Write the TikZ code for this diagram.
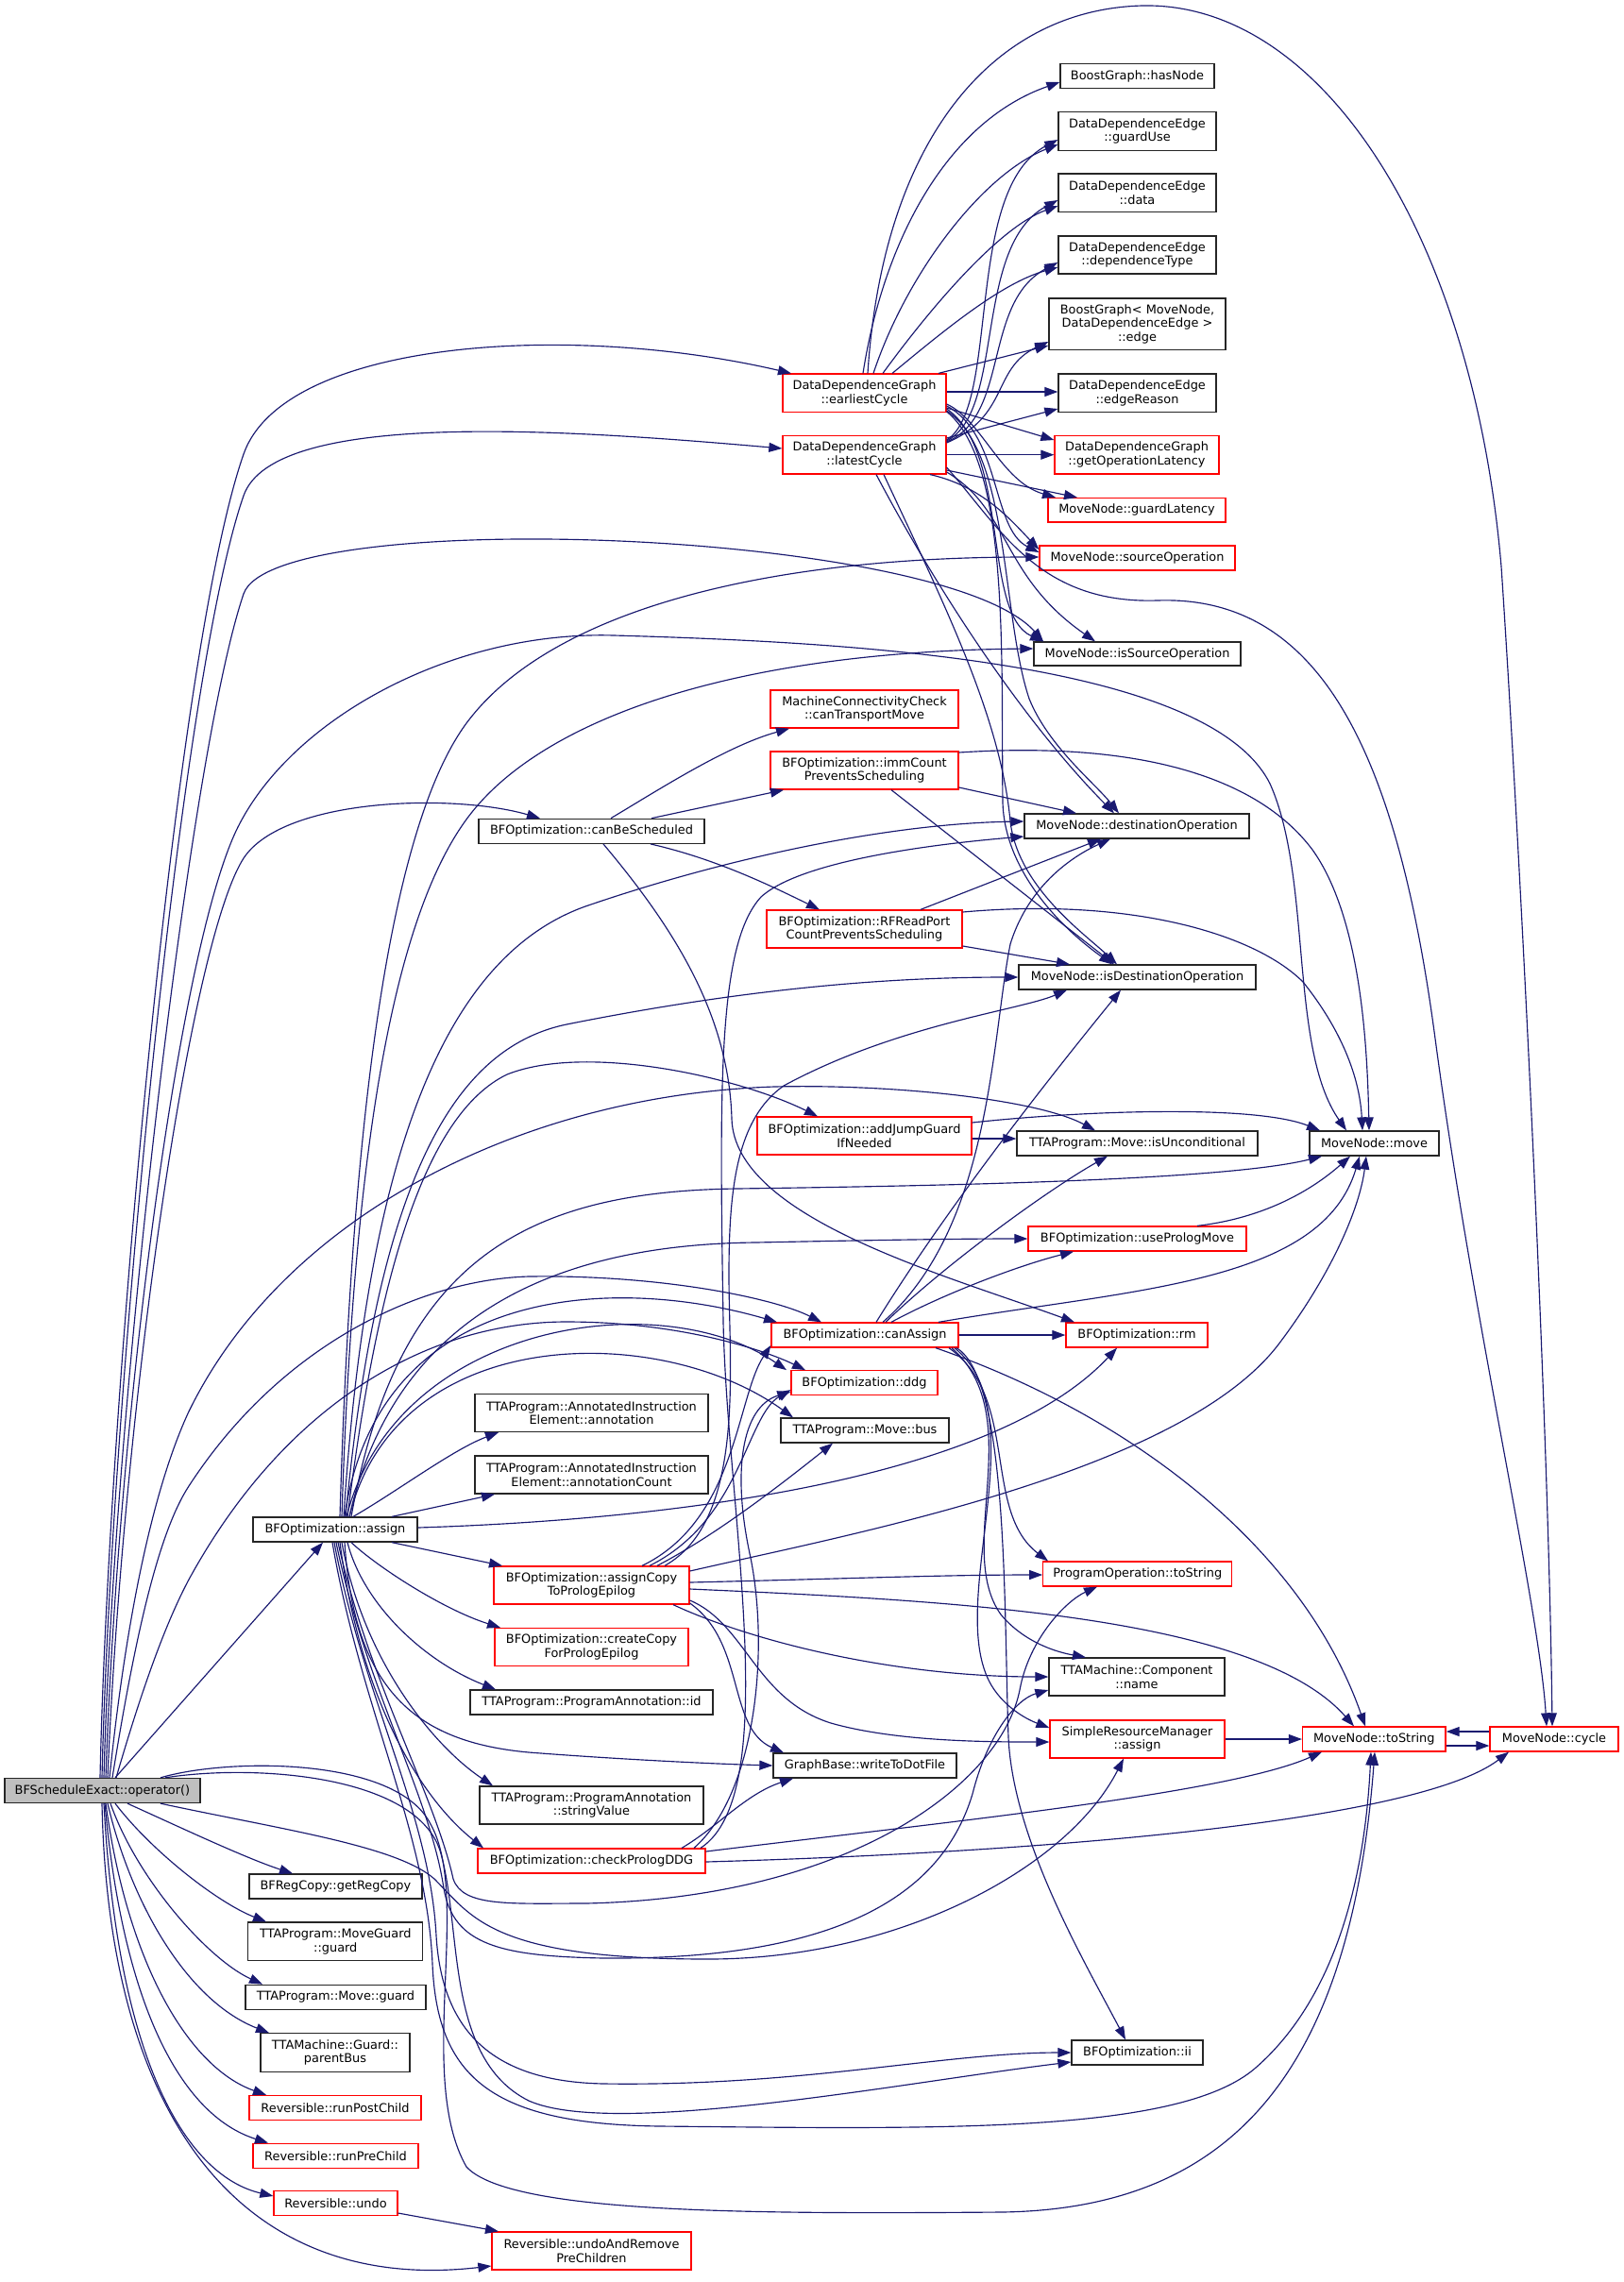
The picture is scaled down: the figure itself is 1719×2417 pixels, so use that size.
\documentclass[tikz,border=0pt]{standalone}
\usepackage{fontspec}
\setmainfont{DejaVu Sans}
\usetikzlibrary{arrows.meta}
\definecolor{edgeblue}{RGB}{25,25,112}
\definecolor{nodered}{RGB}{255,0,0}
\begin{document}
\begin{tikzpicture}[x=1pt,y=-1pt,
  lab/.style={font=\fontsize{12.9}{14.6}\selectfont},
  box/.style={draw=black!85, fill=white, line width=1.3pt, inner sep=0pt, align=center, lab},
  rbox/.style={box, draw=nodered},
  rootbox/.style={box, fill=black!25},
  edge/.style={draw=edgeblue, line width=1.15pt, -{Triangle[length=14pt,width=10pt]}, fill=none},
]
\path[use as bounding box, fill=white] (0,0) rectangle (1719,2417);

% ---------------- nodes ----------------
\node[rootbox, minimum width=207, minimum height=26] (R) at (108.4,1896.5) {BFScheduleExact::operator()};
\node[box, minimum width=174, minimum height=26] (assign) at (355,1620) {BFOptimization::assign};
\node[box, minimum width=183, minimum height=26] (getRegCopy) at (355.4,1998) {BFRegCopy::getRegCopy};
\node[box, minimum width=185, minimum height=40.5] (mgGuard) at (355.3,2056.3) {TTAProgram::MoveGuard\\::guard};
\node[box, minimum width=191, minimum height=26] (mvGuard) at (355.5,2115.3) {TTAProgram::Move::guard};
\node[box, minimum width=158, minimum height=40.5] (parentBus) at (355,2174) {TTAMachine::Guard::\\parentBus};
\node[rbox, minimum width=182, minimum height=26] (runPost) at (355,2232.5) {Reversible::runPostChild};
\node[rbox, minimum width=175, minimum height=26] (runPre) at (355.5,2283.3) {Reversible::runPreChild};
\node[rbox, minimum width=131, minimum height=26] (undo) at (355.5,2333.5) {Reversible::undo};

\node[box, minimum width=239, minimum height=26] (canSched) at (626.5,880.3) {BFOptimization::canBeScheduled};
\node[box, minimum width=247, minimum height=40] (annot) at (626.5,1496.5) {TTAProgram::AnnotatedInstruction\\Element::annotation};
\node[box, minimum width=247, minimum height=40] (annotCount) at (626.5,1562) {TTAProgram::AnnotatedInstruction\\Element::annotationCount};
\node[rbox, minimum width=207, minimum height=40] (assignCopy) at (626.5,1679) {BFOptimization::assignCopy\\ToPrologEpilog};
\node[rbox, minimum width=205, minimum height=40] (createCopy) at (626.5,1744.5) {BFOptimization::createCopy\\ForPrologEpilog};
\node[box, minimum width=257, minimum height=26] (annId) at (626.5,1803) {TTAProgram::ProgramAnnotation::id};
\node[box, minimum width=237, minimum height=40] (strVal) at (626.5,1912) {TTAProgram::ProgramAnnotation\\::stringValue};
\node[rbox, minimum width=241, minimum height=26] (checkDDG) at (626.5,1971) {BFOptimization::checkPrologDDG};
\node[rbox, minimum width=211, minimum height=40] (undoRem) at (626.5,2384) {Reversible::undoAndRemove\\PreChildren};

\node[rbox, minimum width=173, minimum height=40.5] (earliest) at (915.5,416.3) {DataDependenceGraph\\::earliestCycle};
\node[rbox, minimum width=173, minimum height=40.5] (latest) at (915.5,481.7) {DataDependenceGraph\\::latestCycle};
\node[rbox, minimum width=199, minimum height=40] (canTrans) at (915.5,751) {MachineConnectivityCheck\\::canTransportMove};
\node[rbox, minimum width=199, minimum height=40] (immCount) at (915.5,816) {BFOptimization::immCount\\PreventsScheduling};
\node[rbox, minimum width=207, minimum height=40] (rfRead) at (915.5,984) {BFOptimization::RFReadPort\\CountPreventsScheduling};
\node[rbox, minimum width=227, minimum height=40] (jumpGuard) at (915.5,1203) {BFOptimization::addJumpGuard\\IfNeeded};
\node[rbox, minimum width=198, minimum height=26] (canAssign) at (916,1414) {BFOptimization::canAssign};
\node[rbox, minimum width=155, minimum height=25.5] (ddg) at (915.5,1464.5) {BFOptimization::ddg};
\node[box, minimum width=178, minimum height=26] (bus) at (916,1515) {TTAProgram::Move::bus};
\node[box, minimum width=194, minimum height=26] (dotFile) at (916,1870) {GraphBase::writeToDotFile};

\node[box, minimum width=163, minimum height=25.7] (hasNode) at (1204.5,80.5) {BoostGraph::hasNode};
\node[box, minimum width=167, minimum height=40.8] (guardUse) at (1204.5,139) {DataDependenceEdge\\::guardUse};
\node[box, minimum width=167, minimum height=40.6] (data) at (1204.5,204.3) {DataDependenceEdge\\::data};
\node[box, minimum width=167, minimum height=40] (depType) at (1204.5,270) {DataDependenceEdge\\::dependenceType};
\node[box, minimum width=187, minimum height=54.5] (bgEdge) at (1204.5,343.3) {BoostGraph< MoveNode,\\DataDependenceEdge >\\::edge};
\node[box, minimum width=167, minimum height=40.5] (edgeReason) at (1204.5,416.3) {DataDependenceEdge\\::edgeReason};
\node[rbox, minimum width=174, minimum height=40.3] (opLat) at (1204,481.7) {DataDependenceGraph\\::getOperationLatency};
\node[rbox, minimum width=188, minimum height=25.5] (guardLat) at (1204,540.3) {MoveNode::guardLatency};
\node[rbox, minimum width=207, minimum height=26] (srcOp) at (1204.5,591) {MoveNode::sourceOperation};
\node[box, minimum width=219, minimum height=25] (isSrcOp) at (1204.5,692.5) {MoveNode::isSourceOperation};
\node[box, minimum width=238, minimum height=26] (dstOp) at (1204,875) {MoveNode::destinationOperation};
\node[box, minimum width=251, minimum height=26] (isDstOp) at (1204.5,1035) {MoveNode::isDestinationOperation};
\node[box, minimum width=255, minimum height=26] (isUncond) at (1204.5,1211) {TTAProgram::Move::isUnconditional};
\node[rbox, minimum width=231, minimum height=26] (useProlog) at (1204.5,1312) {BFOptimization::usePrologMove};
\node[rbox, minimum width=150, minimum height=26] (rm) at (1204,1414) {BFOptimization::rm};
\node[rbox, minimum width=200, minimum height=26] (poStr) at (1204.8,1667) {ProgramOperation::toString};
\node[box, minimum width=186, minimum height=40] (compName) at (1204,1776) {TTAMachine::Component\\::name};
\node[rbox, minimum width=185, minimum height=40] (srmAssign) at (1204.5,1842) {SimpleResourceManager\\::assign};
\node[box, minimum width=139, minimum height=26] (ii) at (1204.5,2174) {BFOptimization::ii};

\node[box, minimum width=137, minimum height=26] (move) at (1455.5,1211) {MoveNode::move};
\node[rbox, minimum width=151.5, minimum height=26] (toStr) at (1455.3,1842) {MoveNode::toString};
\node[rbox, minimum width=136, minimum height=26] (cycle) at (1646,1842) {MoveNode::cycle};

% ---------------- edges from operator() ----------------
\draw[edge] (R.north -| 122,0) -- (assign.south -| 342,0);
\draw[edge] (R.south -| 135,0) .. controls (190,1935) and (260,1968) .. (getRegCopy.north -| 310,0);
\draw[edge] (R.south -| 122,0) .. controls (160,1960) and (230,2015) .. (mgGuard.north -| 282,0);
\draw[edge] (R.south -| 117,0) .. controls (145,1990) and (220,2075) .. (mvGuard.north -| 278,0);
\draw[edge] (R.south -| 114,0) .. controls (140,2020) and (200,2120) .. (parentBus.north -| 285,0);
\draw[edge] (R.south -| 112,0) .. controls (135,2080) and (200,2190) .. (runPost.north -| 282,0);
\draw[edge] (R.south -| 111,0) .. controls (130,2120) and (190,2240) .. (runPre.north -| 284,0);
\draw[edge] (R.south -| 110,0) .. controls (125,2190) and (200,2305) .. (undo.west |- 0,2326);
\draw[edge] (R.south -| 108,0) .. controls (115,2250) and (260,2430) .. (undoRem.west |- 0,2400);
\draw[edge] (undo.east |- 0,2344) -- (undoRem.north -| 528,0);
\draw[edge] (R.north -| 106,0) .. controls (114,1500) and (185,690) .. (258,481) .. controls (300,361) and (600,340) .. (earliest.north -| 838,0);
\draw[edge] (R.north -| 108,0) .. controls (117,1500) and (190,720) .. (258,525) .. controls (290,433) and (600,455) .. (latest.west |- 0,475);
\draw[edge] (R.north -| 110,0) .. controls (120,1500) and (200,800) .. (258,629) .. controls (290,535) and (1000,560) .. (isSrcOp.north -| 1105,0);
\draw[edge] (R.north -| 112,0) .. controls (125,1500) and (190,1000) .. (252,876) .. controls (310,760) and (480,668) .. (650,673) .. controls (900,680) and (1280,700) .. (1345,830) .. controls (1390,930) and (1365,1110) .. (move.north -| 1426,0);
\draw[edge] (R.north -| 114,0) .. controls (130,1500) and (200,1000) .. (258,909) .. controls (300,845) and (480,840) .. (canSched.north -| 572,0);
\draw[edge] (R.north -| 116,0) .. controls (135,1700) and (165,1570) .. (200,1495) .. controls (300,1290) and (550,1160) .. (820,1151) .. controls (950,1148) and (1100,1165) .. (isUncond.north -| 1160,0);
\draw[edge] (R.north -| 119,0) .. controls (145,1720) and (170,1620) .. (200,1574) .. controls (300,1420) and (450,1355) .. (560,1352) .. controls (700,1350) and (820,1375) .. (canAssign.north -| 870,0);
\draw[edge] (R.north -| 123,0) .. controls (150,1790) and (175,1720) .. (200,1673) .. controls (300,1490) and (450,1400) .. (600,1400) .. controls (720,1400) and (810,1430) .. (ddg.north -| 853,0);
\draw[edge] (R.south -| 170,0) .. controls (300,1938) and (420,1955) .. (460,1990) .. controls (500,2030) and (520,2075) .. (750,2075) .. controls (950,2075) and (1130,1980) .. (srmAssign.south -| 1190,0);
\draw[edge] (R.north -| 170,0) .. controls (240,1862) and (420,1860) .. (456,1932) .. controls (500,2010) and (440,2200) .. (494,2295) .. controls (540,2345) and (800,2345) .. (1060,2343) .. controls (1300,2340) and (1430,2200) .. (toStr.south -| 1456,0);
\draw[edge] (R.north -| 175,0) .. controls (270,1868) and (440,1880) .. (466,1960) .. controls (490,2040) and (470,2180) .. (560,2225) .. controls (650,2265) and (960,2205) .. (ii.west |- 0,2184);

% ---------------- edges from assign ----------------
\draw[edge] (assign.north -| 365,0) .. controls (400,1360) and (650,1350) .. (canAssign.north -| 823,0);
\draw[edge] (assign.north -| 367,0) .. controls (420,1400) and (700,1360) .. (ddg.north -| 833,0);
\draw[edge] (assign.north -| 370,0) .. controls (420,1400) and (700,1400) .. (bus.north -| 840,0);
\draw[edge] (assign.north -| 374,0) .. controls (420,1580) and (480,1535) .. (annot.south -| 528,0);
\draw[edge] (assign.north -| 415,0) -- (annotCount.south -| 524,0);
\draw[edge] (assign.south -| 415,0) -- (assignCopy.north -| 532,0);
\draw[edge] (assign.south -| 372,0) .. controls (400,1660) and (470,1705) .. (createCopy.north -| 530,0);
\draw[edge] (assign.south -| 368,0) .. controls (385,1700) and (450,1760) .. (annId.north -| 525,0);
\draw[edge] (assign.south -| 365,0) .. controls (375,1790) and (440,1845) .. (560,1856) .. controls (650,1863) and (750,1868) .. (dotFile.west |- 0,1870);
\draw[edge] (assign.south -| 362,0) .. controls (385,1760) and (460,1850) .. (strVal.north -| 522,0);
\draw[edge] (assign.south -| 360,0) .. controls (380,1790) and (440,1900) .. (checkDDG.north -| 512,0);
\draw[edge] (assign.east |- 0,1618) .. controls (700,1610) and (1050,1570) .. (rm.south -| 1183,0);
\draw[edge] (assign.north -| 372,0) .. controls (420,1340) and (550,1262) .. (780,1259) .. controls (1000,1256) and (1300,1250) .. (move.south -| 1400,0);
\draw[edge] (assign.north -| 370,0) .. controls (420,1385) and (600,1318) .. (800,1316) .. controls (950,1313) and (1020,1312) .. (useProlog.west |- 0,1312);
\draw[edge] (assign.north -| 368,0) .. controls (400,1350) and (450,1180) .. (537,1138) .. controls (620,1105) and (780,1140) .. (jumpGuard.north -| 866,0);
\draw[edge] (assign.north -| 366,0) .. controls (400,1250) and (480,1110) .. (600,1085) .. controls (800,1045) and (950,1035) .. (isDstOp.west |- 0,1035);
\draw[edge] (assign.north -| 364,0) .. controls (390,1200) and (480,1010) .. (620,960) .. controls (780,905) and (950,872) .. (dstOp.west |- 0,870);
\draw[edge] (assign.north -| 362,0) .. controls (375,1200) and (420,960) .. (500,860) .. controls (580,760) and (780,690) .. (isSrcOp.west |- 0,687);
\draw[edge] (assign.north -| 360,0) .. controls (372,1200) and (410,880) .. (494,766) .. controls (580,650) and (800,590) .. (srcOp.west |- 0,590);
\draw[edge] (assign.south -| 358,0) .. controls (390,1780) and (460,1900) .. (480,1990) .. controls (490,2020) and (540,2016) .. (620,2016) .. controls (900,2010) and (1060,1890) .. (1080,1790) .. controls (1090,1735) and (1130,1695) .. (poStr.south -| 1162,0);
\draw[edge] (assign.south -| 356,0) .. controls (388,1790) and (455,1900) .. (470,2000) .. controls (480,2060) and (530,2072) .. (640,2074) .. controls (900,2076) and (1000,2000) .. (1030,1900) .. controls (1045,1840) and (1075,1800) .. (compName.west |- 0,1790);
\draw[edge] (assign.south -| 354,0) .. controls (385,1800) and (455,1920) .. (462,2050) .. controls (468,2150) and (520,2205) .. (640,2207) .. controls (850,2210) and (1000,2174) .. (ii.west |- 0,2174);
\draw[edge] (assign.south -| 352,0) .. controls (382,1810) and (452,1940) .. (458,2080) .. controls (463,2200) and (520,2250) .. (700,2252) .. controls (1000,2255) and (1250,2260) .. (1330,2190) .. controls (1410,2120) and (1445,2000) .. (toStr.south -| 1452,0);

% ---------------- edges from assignCopyToPrologEpilog ----------------
\draw[edge] (assignCopy.north -| 680,0) .. controls (780,1610) and (780,1480) .. (canAssign.west |- 0,1425);
\draw[edge] (assignCopy.north -| 688,0) .. controls (785,1610) and (790,1500) .. (ddg.west |- 0,1472);
\draw[edge] (assignCopy.north -| 696,0) .. controls (760,1625) and (830,1570) .. (bus.south -| 882,0);
\draw[edge] (assignCopy.north -| 704,0) .. controls (790,1610) and (772,1450) .. (772,1350) .. controls (772,1260) and (780,1185) .. (830,1150) .. controls (950,1085) and (1080,1070) .. (isDstOp.south -| 1130,0);
\draw[edge] (assignCopy.east |- 0,1664) .. controls (900,1625) and (1250,1560) .. (1354,1424) .. controls (1410,1350) and (1440,1280) .. (move.south -| 1447,0);
\draw[edge] (assignCopy.east |- 0,1676) .. controls (900,1672) and (1000,1668) .. (poStr.west |- 0,1668);
\draw[edge] (assignCopy.east |- 0,1683) .. controls (1000,1695) and (1330,1710) .. (toStr.north -| 1434,0);
\draw[edge] (assignCopy.south -| 713,0) .. controls (800,1740) and (950,1776) .. (compName.west |- 0,1776);
\draw[edge] (assignCopy.east |- 0,1695) .. controls (790,1720) and (800,1800) .. (880,1825) .. controls (950,1845) and (1050,1845) .. (srmAssign.west |- 0,1845);
\draw[edge] (assignCopy.east |- 0,1698) .. controls (790,1740) and (770,1830) .. (dotFile.north -| 830,0);

% ---------------- edges from checkPrologDDG ----------------
\draw[edge] (checkDDG.north -| 722,0) .. controls (760,1935) and (790,1900) .. (dotFile.south -| 840,0);
\draw[edge] (checkDDG.east |- 0,1961) .. controls (1000,1930) and (1300,1900) .. (toStr.south -| 1400,0);
\draw[edge] (checkDDG.east |- 0,1972) .. controls (1100,1962) and (1500,1930) .. (cycle.south -| 1598,0);
\draw[edge] (checkDDG.north -| 735,0) .. controls (800,1900) and (815,1750) .. (795,1650) .. controls (775,1560) and (785,1490) .. (ddg.west |- 0,1474);
\draw[edge] (checkDDG.north -| 742,0) .. controls (830,1900) and (770,1600) .. (766,1400) .. controls (762,1150) and (760,1000) .. (806,950) .. controls (850,910) and (1000,893) .. (dstOp.west |- 0,886);

% ---------------- edges from canAssign ----------------
\draw[edge] (canAssign.east) -- (rm.west);
\draw[edge] (canAssign.north -| 944,0) .. controls (1000,1370) and (1080,1340) .. (useProlog.south -| 1137,0);
\draw[edge] (canAssign.north -| 938,0) .. controls (1000,1340) and (1110,1260) .. (isUncond.south -| 1173,0);
\draw[edge] (canAssign.north -| 994,0) .. controls (1200,1365) and (1400,1360) .. (move.south -| 1440,0);
\draw[edge] (canAssign.north -| 928,0) .. controls (990,1300) and (1080,1180) .. (isDstOp.south -| 1187,0);
\draw[edge] (canAssign.north -| 935,0) .. controls (1050,1300) and (1050,1100) .. (1070,1000) .. controls (1090,935) and (1140,905) .. (dstOp.south -| 1176,0);
\draw[edge] (canAssign.south -| 1005,0) .. controls (1080,1480) and (1040,1600) .. (poStr.north -| 1110,0);
\draw[edge] (canAssign.south -| 1008,0) .. controls (1090,1500) and (1010,1640) .. (1060,1710) .. controls (1085,1740) and (1120,1750) .. (compName.north -| 1150,0);
\draw[edge] (canAssign.south -| 1011,0) .. controls (1100,1500) and (1000,1700) .. (1050,1785) .. controls (1065,1810) and (1090,1822) .. (srmAssign.west |- 0,1830);
\draw[edge] (canAssign.south -| 1013,0) .. controls (1068,1460) and (1063,1700) .. (1068,1840) .. controls (1073,1950) and (1150,2080) .. (ii.north -| 1192,0);
\draw[edge] (canAssign.south -| 991,0) .. controls (1200,1500) and (1380,1640) .. (toStr.north -| 1446,0);

% ---------------- edges from canBeScheduled ----------------
\draw[edge] (canSched.north -| 647,0) .. controls (700,835) and (770,790) .. (canTrans.south -| 836,0);
\draw[edge] (canSched.north -| 690,0) -- (immCount.south -| 830,0);
\draw[edge] (canSched.south -| 689,0) .. controls (760,910) and (820,940) .. (rfRead.north -| 868,0);
\draw[edge] (canSched.south -| 639,0) .. controls (720,990) and (772,1080) .. (775,1185) .. controls (778,1290) and (1000,1350) .. (rm.north -| 1138,0);

% ---------------- immCount / RFReadPort / addJumpGuard / useProlog ----------------
\draw[edge] (immCount.east |- 0,834) -- (dstOp.north -| 1140,0);
\draw[edge] (immCount.south -| 944,0) -- (isDstOp.north -| 1180,0);
\draw[edge] (immCount.east |- 0,797) .. controls (1200,785) and (1330,820) .. (1390,900) .. controls (1440,970) and (1448,1100) .. (move.north -| 1450,0);
\draw[edge] (rfRead.north -| 975,0) -- (dstOp.south -| 1166,0);
\draw[edge] (rfRead.east |- 0,1002) -- (isDstOp.north -| 1133,0);
\draw[edge] (rfRead.east |- 0,966) .. controls (1200,950) and (1330,990) .. (1380,1040) .. controls (1420,1090) and (1440,1140) .. (move.north -| 1443,0);
\draw[edge] (jumpGuard.east |- 0,1206) -- (isUncond.west |- 0,1206);
\draw[edge] (jumpGuard.east |- 0,1189) .. controls (1150,1176) and (1330,1170) .. (move.north -| 1398,0);
\draw[edge] (useProlog.north -| 1268,0) .. controls (1340,1290) and (1390,1260) .. (move.south -| 1430,0);

% ---------------- edges from earliestCycle ----------------
\draw[edge] (earliest.north -| 919,0) .. controls (935,150) and (1050,10) .. (1210,6) .. controls (1400,2) and (1560,250) .. (1590,600) .. controls (1610,900) and (1640,1500) .. (cycle.north -| 1644,0);
\draw[edge] (earliest.north -| 914,0) .. controls (935,260) and (1000,130) .. (hasNode.west |- 0,87);
\draw[edge] (earliest.north -| 925,0) .. controls (960,290) and (1040,185) .. (guardUse.west |- 0,153);
\draw[edge] (earliest.north -| 935,0) .. controls (990,320) and (1060,240) .. (data.west |- 0,218);
\draw[edge] (earliest.north -| 945,0) .. controls (1000,350) and (1060,300) .. (depType.west |- 0,283);
\draw[edge] (earliest.north -| 994,0) -- (bgEdge.west |- 0,366);
\draw[edge] (earliest.east |- 0,415) -- (edgeReason.west |- 0,415);
\draw[edge] (earliest.east |- 0,432) -- (opLat.west |- 0,466);
\draw[edge] (earliest.east |- 0,428) .. controls (1040,445) and (1060,510) .. (guardLat.north -| 1118,0);
\draw[edge] (earliest.east |- 0,430) .. controls (1060,460) and (1050,560) .. (srcOp.west |- 0,585);
\draw[edge] (earliest.east |- 0,433) .. controls (1070,480) and (1040,650) .. (isSrcOp.north -| 1105,0);
\draw[edge] (earliest.east |- 0,435) .. controls (1070,480) and (1060,650) .. (1090,740) .. controls (1110,790) and (1160,830) .. (dstOp.north -| 1185,0);
\draw[edge] (earliest.east |- 0,436) .. controls (1070,490) and (1060,700) .. (1062,850) .. controls (1064,920) and (1120,980) .. (isDstOp.north -| 1178,0);

% ---------------- edges from latestCycle ----------------
\draw[edge] (latest.east |- 0,466) .. controls (1060,430) and (1020,200) .. (guardUse.west |- 0,148);
\draw[edge] (latest.east |- 0,467) .. controls (1065,435) and (1030,260) .. (data.west |- 0,212);
\draw[edge] (latest.east |- 0,468) .. controls (1070,440) and (1040,320) .. (depType.west |- 0,278);
\draw[edge] (latest.east |- 0,469) .. controls (1070,440) and (1050,390) .. (bgEdge.west |- 0,362);
\draw[edge] (latest.east |- 0,464) -- (edgeReason.west |- 0,433);
\draw[edge] (latest.east) -- (opLat.west);
\draw[edge] (latest.east |- 0,498) -- (guardLat.north -| 1141,0);
\draw[edge] (latest.south -| 985,0) .. controls (1040,515) and (1070,550) .. (srcOp.west |- 0,582);
\draw[edge] (latest.east |- 0,500) .. controls (1070,540) and (1060,610) .. (isSrcOp.north -| 1160,0);
\draw[edge] (latest.south -| 928,0) .. controls (990,620) and (1080,760) .. (dstOp.north -| 1180,0);
\draw[edge] (latest.south -| 936,0) .. controls (1000,640) and (1060,760) .. (1070,870) .. controls (1078,940) and (1150,990) .. (isDstOp.north -| 1183,0);
\draw[edge] (latest.east |- 0,495) .. controls (1060,560) and (1100,640) .. (1226,636) .. controls (1400,630) and (1480,800) .. (1520,1100) .. controls (1560,1400) and (1630,1700) .. (cycle.north -| 1638,0);

% ---------------- toString / cycle / resource manager ----------------
\draw[edge] (toStr.east |- 0,1849) -- (cycle.west |- 0,1849);
\draw[edge] (cycle.west |- 0,1834) -- (toStr.east |- 0,1834);
\draw[edge] (srmAssign.east) -- (toStr.west);
\end{tikzpicture}
\end{document}
